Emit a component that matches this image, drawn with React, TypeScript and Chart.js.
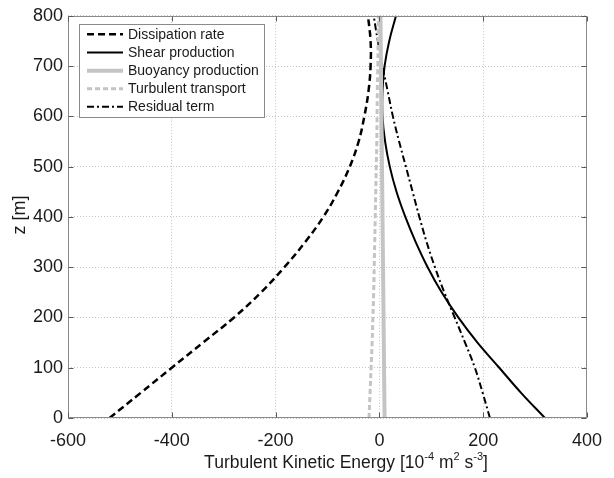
import React, { useEffect, useRef } from 'react';
import { Chart, registerables } from 'chart.js';
Chart.register(...registerables);

// Heights (z, m)
const zLevels = [0, 50, 100, 150, 200, 250, 300, 350, 400, 450, 500, 550, 600, 650, 700, 750, 800];
// TKE budget terms [10^-4 m^2 s^-3]
const dissipation = [-520, -460, -400, -340, -280, -228, -183, -143, -108, -80, -57, -40, -29, -21, -17, -17, -22];
const shear = [319, 273, 231, 189, 152, 120, 93, 70, 50, 33, 20, 11, 6, 6, 10, 19, 32];
const buoyancy = [10, 9.5, 9, 8.5, 8, 7.5, 7, 6.5, 6, 5.5, 5, 4.5, 4, 3.5, 3, 2.5, 2];
const transport = [-20, -18, -16, -14, -12.5, -11, -10, -9, -8, -7, -6, -5, -4.5, -4, -3, -2.5, -2];
const residual = [213, 199, 184, 165, 145, 125, 107, 91, 77, 64, 51, 38, 26, 16, 6, -3, -11];

const xTicks = [-600, -400, -200, 0, 200, 400];
const yTicks = [0, 100, 200, 300, 400, 500, 600, 700, 800];

const legendNames = ['Dissipation rate', 'Shear production', 'Buoyancy production', 'Turbulent transport', 'Residual term'];

const FONT = '"Liberation Sans", Arial, Helvetica, sans-serif';

const toPts = (vals: number[]) => vals.map((v, i) => ({ x: v, y: zLevels[i] }));

const styles = [
  { color: '#000000', width: 2.5, dash: [7, 4] },
  { color: '#000000', width: 2, dash: [] as number[] },
  { color: '#c4c4c4', width: 4, dash: [] as number[] },
  { color: '#c4c4c4', width: 3, dash: [5, 3] },
  { color: '#000000', width: 2, dash: [7, 3, 2, 3] },
];

const decor = {
  id: 'decor',
  afterDraw(chart: any) {
    const { ctx, chartArea: a, scales } = chart;
    const xs = scales.x;
    const ys = scales.y;
    ctx.save();
    // frame
    const L = Math.round(a.left) + 0.5;
    const R = Math.round(a.right) - 0.5;
    const T = Math.round(a.top) + 0.5;
    const B = Math.round(a.bottom) - 0.5;
    ctx.strokeStyle = '#8a8a8a';
    ctx.lineWidth = 1;
    ctx.setLineDash([]);
    ctx.strokeRect(L, T, R - L, B - T);
    // inward tick marks
    ctx.strokeStyle = '#5a5a5a';
    ctx.beginPath();
    xTicks.forEach((v) => {
      const px = Math.round(xs.getPixelForValue(v)) + 0.5;
      ctx.moveTo(px, B); ctx.lineTo(px, B - 5);
      ctx.moveTo(px, T); ctx.lineTo(px, T + 5);
    });
    yTicks.forEach((v) => {
      const py = Math.round(ys.getPixelForValue(v)) + 0.5;
      ctx.moveTo(L, py); ctx.lineTo(L + 5, py);
      ctx.moveTo(R, py); ctx.lineTo(R - 5, py);
    });
    ctx.stroke();

    // x-axis title with superscripts
    const big = 17.5;
    const small = 11;
    const segs: [string, boolean][] = [
      ['Turbulent Kinetic Energy [10', false],
      ['-4', true],
      [' m', false],
      ['2', true],
      [' s', false],
      ['-3', true],
      [']', false],
    ];
    let total = 0;
    segs.forEach(([t, sup]) => {
      ctx.font = `${sup ? small : big}px ${FONT}`;
      total += ctx.measureText(t).width;
    });
    let cx = 346 - total / 2;
    const base = 468;
    ctx.fillStyle = '#1a1a1a';
    ctx.textBaseline = 'alphabetic';
    ctx.textAlign = 'left';
    segs.forEach(([t, sup]) => {
      ctx.font = `${sup ? small : big}px ${FONT}`;
      ctx.fillText(t, cx, sup ? base - 8 : base);
      cx += ctx.measureText(t).width;
    });

    // y-axis title
    ctx.save();
    ctx.translate(20, 215);
    ctx.rotate(-Math.PI / 2);
    ctx.font = `18px ${FONT}`;
    ctx.textAlign = 'center';
    ctx.textBaseline = 'middle';
    ctx.fillText('z [m]', 0, 0);
    ctx.restore();

    // legend
    const bx = 79.5, by = 24.5, bw = 185, bh = 93;
    ctx.fillStyle = '#ffffff';
    ctx.fillRect(bx, by, bw, bh);
    ctx.strokeStyle = '#8a8a8a';
    ctx.lineWidth = 1;
    ctx.strokeRect(bx, by, bw, bh);
    const rows = [34.3, 52.5, 70.7, 88.7, 106.7];
    ctx.font = `14px ${FONT}`;
    ctx.textBaseline = 'middle';
    ctx.textAlign = 'left';
    legendNames.forEach((name, i) => {
      const s = styles[i];
      ctx.strokeStyle = s.color;
      ctx.lineWidth = s.width;
      ctx.setLineDash(s.dash);
      ctx.beginPath();
      ctx.moveTo(87, rows[i]);
      ctx.lineTo(123, rows[i]);
      ctx.stroke();
      ctx.setLineDash([]);
      ctx.fillStyle = '#1a1a1a';
      ctx.fillText(name, 128, rows[i] + 0.5);
    });
    ctx.restore();
  },
};

export default function App() {
  const ref = useRef<HTMLCanvasElement>(null);
  useEffect(() => {
    document.body.style.margin = '0';
    const canvas = ref.current!;
    const series = [dissipation, shear, buoyancy, transport, residual];
    const order = [2, 3, 0, 1, 4];
    const datasets = order.map((i) => ({
      label: legendNames[i],
      data: toPts(series[i]),
      borderColor: styles[i].color,
      borderWidth: styles[i].width,
      borderDash: styles[i].dash,
      pointRadius: 0,
      showLine: true,
      tension: 0.4,
      fill: false,
    }));
    const chart = new Chart(canvas, {
      type: 'scatter',
      data: { datasets },
      options: {
        animation: false,
        responsive: false,
        devicePixelRatio: 1,
        layout: { padding: { top: 15, right: 19, left: 0, bottom: 0 } },
        plugins: { legend: { display: false }, tooltip: { enabled: false } },
        scales: {
          x: {
            type: 'linear',
            min: -600,
            max: 400,
            afterBuildTicks: (s: any) => { s.ticks = xTicks.map((v) => ({ value: v })); },
            afterFit: (s: any) => { s.height = 60; },
            ticks: { font: { size: 18, family: FONT }, color: '#1a1a1a', padding: 12, maxRotation: 0, autoSkip: false },
            grid: { color: '#c4c4c4', drawTicks: false, lineWidth: 1 },
            border: { display: false, dash: [1, 2] },
          },
          y: {
            type: 'linear',
            min: 0,
            max: 800,
            afterBuildTicks: (s: any) => { s.ticks = yTicks.map((v) => ({ value: v })); },
            afterFit: (s: any) => { s.width = 68; },
            ticks: { font: { size: 18, family: FONT }, color: '#1a1a1a', padding: 5, autoSkip: false },
            grid: { color: '#c4c4c4', drawTicks: false, lineWidth: 1 },
            border: { display: false, dash: [1, 2] },
          },
        },
      },
      plugins: [decor],
    });
    return () => chart.destroy();
  }, []);
  return (
    <div style={{ width: 614, height: 478 }}>
      <canvas ref={ref} width={614} height={478} style={{ display: 'block' }} />
    </div>
  );
}
